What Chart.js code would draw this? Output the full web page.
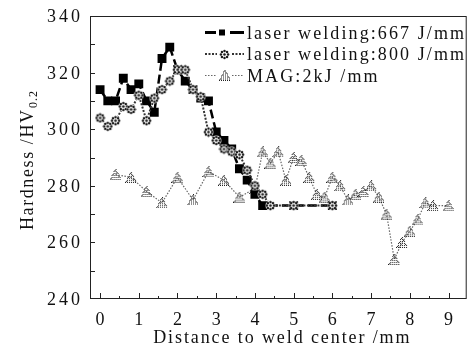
<!DOCTYPE html>
<html>
<head>
<meta charset="utf-8">
<script src="https://cdn.jsdelivr.net/npm/chart.js@4.4.1/dist/chart.umd.min.js"></script>
<style>
  html, body { margin: 0; padding: 0; background: #fff; }
  #wrap { width: 473px; height: 359px; }
</style>
</head>
<body>
<div id="wrap"><canvas id="chart"></canvas></div>
<script>
// ---- data ----
const seriesNames = ['laser welding:667 J/mm', 'laser welding:800 J/mm', 'MAG:2kJ /mm'];

const dist667 = [0, 0.2, 0.4, 0.6, 0.8, 1.0, 1.2, 1.4, 1.6, 1.8, 2.0, 2.2, 2.4, 2.6, 2.8, 3.0, 3.2, 3.4, 3.6, 3.8, 4.0, 4.2, 5.0, 6.0];
const hard667 = [314, 310, 310, 318, 314, 316, 310, 306, 325, 329, 321, 317, 314, 311, 310, 299, 296, 293, 286, 282, 277, 273, 273, 273];

const dist800 = [0, 0.2, 0.4, 0.6, 0.8, 1.0, 1.2, 1.4, 1.6, 1.8, 2.0, 2.1, 2.2, 2.4, 2.6, 2.8, 3.0, 3.2, 3.4, 3.6, 3.8, 4.0, 4.2, 4.4, 5.0, 6.0];
const hard800 = [304, 301, 303, 308, 307, 312, 303, 311, 314, 317, 321, 321, 321, 314, 311.5, 299, 296, 293, 292, 291, 285.5, 280, 277, 273, 273, 273];

const distMAG = [0.4, 0.8, 1.2, 1.6, 2.0, 2.4, 2.8, 3.2, 3.6, 4.0, 4.2, 4.4, 4.6, 4.8, 5.0, 5.2, 5.4, 5.6, 5.8, 6.0, 6.2, 6.4, 6.6, 6.8, 7.0, 7.2, 7.4, 7.6, 7.8, 8.0, 8.2, 8.4, 8.6, 9.0];
const hardMAG = [284, 283, 278, 274, 283, 275, 285, 282, 276, 279, 292, 288, 292, 282, 290, 289, 283, 277, 276, 283, 280, 275, 277, 278, 280, 276, 270, 254, 260, 264, 268, 274, 273, 273];

const xTicks = [0, 1, 2, 3, 4, 5, 6, 7, 8, 9];
const yTicks = [240, 260, 280, 300, 320, 340];
const xTitle = 'Distance to weld center /mm';

const FONT = "'Liberation Serif', 'Times New Roman', serif";

function toPoints(xs, ys) {
  return xs.map((x, i) => ({ x: x, y: ys[i] }));
}

// the scanned figure has loosely tracked text, so draw char by char
function drawSpaced(ctx, text, x, y, align, gap) {
  const ws = Array.from(text).map(ch => ctx.measureText(ch).width);
  const total = ws.reduce((s, w) => s + w, 0) + gap * (ws.length - 1);
  let cx = align === 'center' ? x - total / 2 : align === 'right' ? x - total : x;
  ctx.textAlign = 'left';
  Array.from(text).forEach((ch, i) => {
    ctx.fillText(ch, cx, y);
    cx += ws[i] + gap;
  });
  return total;
}

function spacedWidth(ctx, text, gap) {
  return Array.from(text).reduce((s, ch) => s + ctx.measureText(ch).width, 0) + gap * (text.length - 1);
}

// dotted marker glyphs, like the scanned figure
function makeCircleImg() {
  const c = document.createElement('canvas');
  c.width = 11; c.height = 11;
  const g = c.getContext('2d');
  g.fillStyle = '#fff';
  g.beginPath(); g.arc(5.5, 5.5, 5, 0, Math.PI * 2); g.fill();
  g.fillStyle = '#1a1a1a';
  for (let k = 0; k < 8; k++) {
    const ang = k * Math.PI / 4;
    g.beginPath();
    g.arc(5.5 + 3.6 * Math.cos(ang), 5.5 + 3.6 * Math.sin(ang), 1.25, 0, Math.PI * 2);
    g.fill();
  }
  g.beginPath(); g.arc(5.5, 5.5, 1.3, 0, Math.PI * 2); g.fill();
  return c;
}

function makeTriImg() {
  const c = document.createElement('canvas');
  c.width = 12; c.height = 11;
  const g = c.getContext('2d');
  g.fillStyle = '#222';
  for (let i = 0; i < 12; i++) {
    for (let j = 0; j < 11; j++) {
      const px = i + 0.5, py = j + 0.5;
      const half = (py / 10.5) * 5.6;
      if (py < 0.3 || py > 10.8 || Math.abs(px - 6) > half + 0.3) continue;
      const edge = Math.abs(px - 6) > half - 1.3 || py > 9.5;
      if (edge ? (i + j) % 2 === 0 : (i % 2 === 0 && j % 2 === 0)) g.fillRect(i, j, 1, 1);
    }
  }
  return c;
}

const circleImg = makeCircleImg();
const triImg = makeTriImg();

// box, inward ticks and tick labels
const frameTicks = {
  id: 'frameTicks',
  afterDraw(chart) {
    const { ctx, chartArea: a, scales } = chart;
    ctx.save();
    ctx.strokeStyle = '#222';
    ctx.lineWidth = 1;
    ctx.strokeRect(a.left + 0.5, a.top + 0.5, a.right - a.left - 1, a.bottom - a.top - 1);
    ctx.beginPath();
    for (let v = 0; v <= 9; v += 0.5) {
      const px = Math.round(scales.x.getPixelForValue(v)) + 0.5;
      const len = Number.isInteger(v) ? 6 : 3;
      ctx.moveTo(px, a.bottom);
      ctx.lineTo(px, a.bottom - len);
    }
    for (let v = 250; v < 340; v += 10) {
      const py = Math.round(scales.y.getPixelForValue(v)) + 0.5;
      ctx.moveTo(a.left, py);
      ctx.lineTo(a.left + 5, py);
    }
    ctx.stroke();

    ctx.fillStyle = '#111';
    ctx.font = '18px ' + FONT;
    ctx.textBaseline = 'alphabetic';
    scales.x.ticks.forEach(t => {
      drawSpaced(ctx, String(t.value), scales.x.getPixelForValue(t.value), a.bottom + 26, 'center', 3);
    });
    scales.y.ticks.forEach(t => {
      drawSpaced(ctx, String(t.value), a.left - 10, scales.y.getPixelForValue(t.value) + 6, 'right', 3);
    });
    drawSpaced(ctx, xTitle, (a.left + a.right) / 2 + 3, a.bottom + 44, 'center', 1.9);
    ctx.restore();
  }
};

// y title with subscript
const yTitle = {
  id: 'yTitle',
  afterDraw(chart) {
    const { ctx, chartArea: a } = chart;
    ctx.save();
    ctx.fillStyle = '#111';
    ctx.translate(33, (a.top + a.bottom) / 2 + 3);
    ctx.rotate(-Math.PI / 2);
    ctx.textBaseline = 'alphabetic';
    const main = 'Hardness /HV';
    ctx.font = '18px ' + FONT;
    const w1 = spacedWidth(ctx, main, 1.6);
    ctx.font = '12px ' + FONT;
    const w2 = spacedWidth(ctx, '0.2', 1);
    const x0 = -(w1 + w2 + 2) / 2;
    ctx.font = '18px ' + FONT;
    drawSpaced(ctx, main, x0, 0, 'left', 1.6);
    ctx.font = '12px ' + FONT;
    drawSpaced(ctx, '0.2', x0 + w1 + 2, 4, 'left', 1);
    ctx.restore();
  }
};

// legend drawn inside the plot, top right
const innerLegend = {
  id: 'innerLegend',
  afterDraw(chart) {
    const { ctx, chartArea: a } = chart;
    const x0 = a.left + 115, x1 = a.left + 154, tx = a.left + 157;
    const rows = [a.top + 22.5, a.top + 44, a.top + 65.5];
    ctx.save();
    // 667
    ctx.strokeStyle = '#000';
    ctx.lineWidth = 3;
    ctx.beginPath();
    ctx.moveTo(x0, rows[0] - 6); ctx.lineTo(x0 + 11, rows[0] - 6);
    ctx.moveTo(x1 - 14, rows[0] - 6); ctx.lineTo(x1, rows[0] - 6);
    ctx.stroke();
    ctx.fillStyle = '#000';
    ctx.fillRect(x0 + 14, rows[0] - 9, 6, 6);
    // 800
    ctx.strokeStyle = '#333';
    ctx.lineWidth = 2;
    ctx.setLineDash([2, 1.5]);
    ctx.beginPath();
    ctx.moveTo(x0, rows[1] - 6); ctx.lineTo(x0 + 12, rows[1] - 6);
    ctx.moveTo(x1 - 12, rows[1] - 6); ctx.lineTo(x1, rows[1] - 6);
    ctx.stroke();
    ctx.drawImage(circleImg, x0 + 14, rows[1] - 11);
    // MAG
    ctx.strokeStyle = '#666';
    ctx.lineWidth = 1.2;
    ctx.setLineDash([1.5, 1.5]);
    ctx.beginPath();
    ctx.moveTo(x0, rows[2] - 6); ctx.lineTo(x0 + 12, rows[2] - 6);
    ctx.moveTo(x1 - 12, rows[2] - 6); ctx.lineTo(x1, rows[2] - 6);
    ctx.stroke();
    ctx.drawImage(triImg, x0 + 14, rows[2] - 12);
    ctx.setLineDash([]);
    ctx.fillStyle = '#111';
    ctx.font = '18px ' + FONT;
    ctx.textBaseline = 'alphabetic';
    seriesNames.forEach((name, i) => drawSpaced(ctx, name, tx, rows[i], 'left', 2.1));
    ctx.restore();
  }
};

new Chart(document.getElementById('chart'), {
  type: 'line',
  data: {
    datasets: [
      {
        label: seriesNames[0],
        data: toPoints(dist667, hard667),
        borderColor: '#000',
        borderWidth: 2.5,
        borderDash: [9, 4],
        pointStyle: 'rect',
        pointRadius: 6.3,
        pointBackgroundColor: '#000',
        pointBorderWidth: 0,
        order: 1
      },
      {
        label: seriesNames[1],
        data: toPoints(dist800, hard800),
        borderColor: '#333',
        borderWidth: 2,
        borderDash: [2, 1.5],
        pointStyle: circleImg,
        order: 0
      },
      {
        label: seriesNames[2],
        data: toPoints(distMAG, hardMAG),
        borderColor: '#666',
        borderWidth: 1.2,
        borderDash: [1.5, 1.5],
        pointStyle: triImg,
        order: 2
      }
    ]
  },
  options: {
    responsive: true,
    maintainAspectRatio: false,
    animation: false,
    layout: { padding: { top: 16, right: 3, left: 0, bottom: 0 } },
    plugins: {
      legend: { display: false },
      tooltip: { enabled: false }
    },
    scales: {
      x: {
        type: 'linear',
        min: -0.26,
        max: 9.47,
        afterBuildTicks: (s) => { s.ticks = xTicks.map(v => ({ value: v })); },
        afterFit: (s) => { s.height = 60; },
        grid: { display: false, drawTicks: false },
        border: { display: false },
        ticks: { display: false }
      },
      y: {
        min: 240,
        max: 340,
        afterBuildTicks: (s) => { s.ticks = yTicks.map(v => ({ value: v })); },
        afterFit: (s) => { s.width = 90; },
        grid: { display: false, drawTicks: false },
        border: { display: false },
        ticks: { display: false }
      }
    }
  },
  plugins: [frameTicks, yTitle, innerLegend]
});
</script>
</body>
</html>
